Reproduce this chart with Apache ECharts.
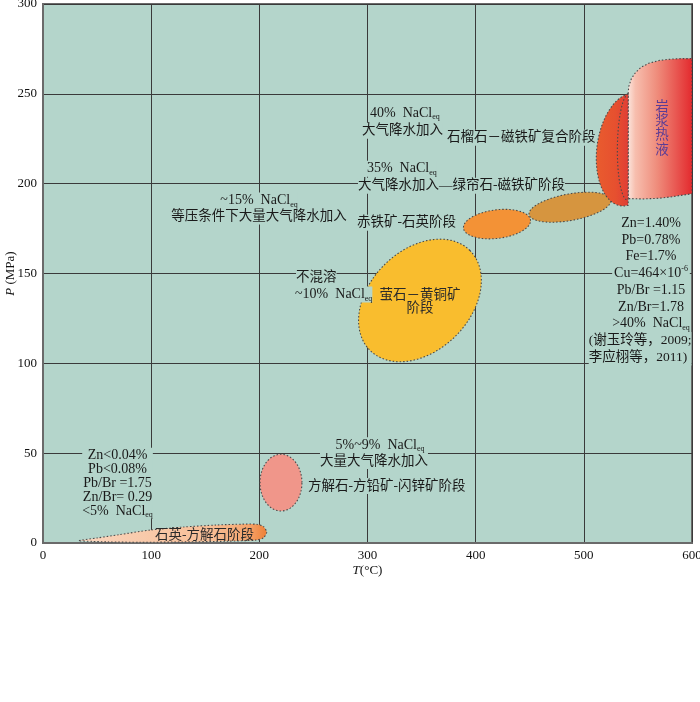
<!DOCTYPE html>
<html><head><meta charset="utf-8">
<script src="https://cdn.jsdelivr.net/npm/echarts@6/dist/echarts.min.js"></script>
<style>html,body{margin:0;padding:0;background:#fff}#c{width:700px;height:702px}</style>
</head><body><div id="c"></div>
<script>
// ---- axes ----
const xMin = 0, xMax = 600, xStep = 100;
const yMin = 0, yMax = 300, yStep = 50;

// ---- stage fields drawn as ellipses: centre [T, P] + two conjugate semi-axes (data units) ----
const ellipseNames  = ['方解石-方铅矿-闪锌矿阶段', '赤铁矿-石英阶段', '绿帘石-磁铁矿阶段', '萤石-黄铜矿阶段'];
const ellipseCenter = [[220, 33.6], [419.7, 177.5], [487.2, 186.9], [348.5, 135]];
const ellipseU      = [[19.4, 0], [31, 1.9], [37.9, 3.7], [46.2, 27.8]];
const ellipseV      = [[0, 15.8], [0, 8.0], [0, 7.5], [-33, 19.8]];
const ellipseColor  = ['#f0968a', '#f39236', '#d6953f', '#f9bd2e'];

// ---- 石英-方解石阶段 lens outline (T, P) ----
const lensT = [33.3, 50, 70, 99, 130, 160, 185, 197.6, 203.9, 206.8, 203.9, 197.6, 170, 130, 90, 60, 45];
const lensP = [1.3, 2.8, 4.6, 7.2, 8.9, 10.0, 10.5, 10.4, 9.1, 6.0, 2.9, 1.7, 1.0, 0.6, 0.4, 0.6, 0.9];

// ---- 岩浆热液 field outline (T, P) ----
const magmaT = [541, 541, 541.5, 544, 548, 553, 560, 570, 580, 590, 600, 600, 590, 580, 570, 555, 541];
const magmaP = [191.7, 250, 254, 258.5, 262, 264.8, 267, 268.6, 269.3, 269.6, 269.6, 194.4, 193.5, 192.6, 191.9, 191.5, 191.7];

// ---- 石榴石-磁铁矿复合阶段 field: half ellipse (centre, conjugate semi-axes) ----
const garnetC = [541, 219], garnetU = [0, 31], garnetV = [-29.5, -5];
const garnetInnerC = [541, 220.5], garnetInnerU = [0, 29.5], garnetInnerV = [-10, -2];

// ---- annotations ----
const EQ = '{s|eq}';
const noteText = [
  '40%  NaCl' + EQ,
  '大气降水加入',
  '石榴石－磁铁矿复合阶段',
  '35%  NaCl' + EQ,
  '大气降水加入—绿帘石-磁铁矿阶段',
  '~15%  NaCl' + EQ,
  '等压条件下大量大气降水加入',
  '赤铁矿-石英阶段',
  '不混溶',
  '~10%  NaCl' + EQ,
  '萤石－黄铜矿\n阶段',
  '岩\n浆\n热\n液',
  'Zn=1.40%\nPb=0.78%\nFe=1.7%\nCu=464×10{p|-6}\nPb/Br =1.15\nZn/Br=1.78\n>40%  NaCl' + EQ,
  '(谢玉玲等，2009;\n李应栩等，2011)',
  'Zn<0.04%\nPb<0.08%\nPb/Br =1.75\nZn/Br= 0.29\n<5%  NaCl' + EQ,
  '5%~9%  NaCl' + EQ,
  '大量大气降水加入',
  '方解石-方铅矿-闪锌矿阶段',
  '石英-方解石阶段'
];
const noteAt = [
  [302.3, 239.4], [294.9, 229.4], [373.5, 225.6], [299.5, 208.3], [291.2, 198.9],
  [199.7, 190.6], [199.7, 181.7], [290.3, 178.3], [233.9, 147.8], [233, 138.3],
  [348.5, 133.9], [572.3, 230.6], [562.1, 150.0], [504.5, 108.1], [68.9, 33.2],
  [311.6, 54.4], [306, 45.6], [245, 31.7], [149.3, 4.4]
];
const noteAlign = ['left','left','left','left','left','center','center','left','left','left',
                   'center','center','center','left','center','center','center','left','center'];
const noteSize  = [14,13.5,13.5,14,13.5,14,13.5,13.5,13.5,14,13.5,13.5,14,13.5,14,14,13.5,13.5,13.5];
const noteLH    = [16,16,16,16,16,16,16,16,16,16,13,14.4,16.75,16.75,14.2,16,16,16,16];
const noteBg    = [1,1,1,1,1,1,1,1,1,1,0,0,1,1,1,1,1,1,0];
const noteColor = ['#1a1a1a','#1a1a1a','#1a1a1a','#1a1a1a','#1a1a1a','#1a1a1a','#1a1a1a','#1a1a1a','#1a1a1a','#1a1a1a',
                   '#2a2a2a','#5b3c95','#1a1a1a','#1a1a1a','#1a1a1a','#1a1a1a','#1a1a1a','#1a1a1a','#2a2a2a'];

const BG = '#b4d5cb';
const FONT = '"Liberation Serif", "Times New Roman", "Noto Sans CJK SC", serif';
const DASH = {stroke: '#4a4a4a', lineWidth: 1.1, lineDash: [1.5, 2]};

function conj(api, c, u, v, t0, t1, n) {
  const pts = [];
  for (let i = 0; i <= n; i++) {
    const t = t0 + (t1 - t0) * i / n;
    pts.push(api.coord([c[0] + u[0] * Math.cos(t) + v[0] * Math.sin(t),
                        c[1] + u[1] * Math.cos(t) + v[1] * Math.sin(t)]));
  }
  return pts;
}
function hgrad(stops) {
  return {type: 'linear', x: 0, y: 0, x2: 1, y2: 0,
          colorStops: stops.map(s => ({offset: s[0], color: s[1]}))};
}

const chart = echarts.init(document.getElementById('c'), null, {renderer: 'canvas'});

const fieldIds = ['lens', 'magma', 'e0', 'e1', 'e2', 'garnet', 'e3'];

chart.setOption({
  animation: false,
  backgroundColor: '#ffffff',
  grid: {left: 43, top: 4, right: 8, bottom: 159, show: true, backgroundColor: BG,
         borderColor: '#6a6a6a', borderWidth: 2, containLabel: false, outerBoundsMode: 'none'},
  xAxis: {
    type: 'value', min: xMin, max: xMax, interval: xStep,
    name: '{i|T}(°C)', nameLocation: 'middle', nameGap: 21, nameMoveOverlap: false,
    nameTextStyle: {fontFamily: FONT, fontSize: 13, color: '#111', rich: {i: {fontStyle: 'italic', fontFamily: FONT, fontSize: 13}}},
    axisLine: {show: true, lineStyle: {color: '#6a6a6a', width: 2}},
    axisTick: {show: false},
    axisLabel: {fontFamily: FONT, fontSize: 13, color: '#111', margin: 6},
    splitLine: {show: true, lineStyle: {color: '#3a3a3a', width: 1}}
  },
  yAxis: {
    type: 'value', min: yMin, max: yMax, interval: yStep,
    name: '{i|P} (MPa)', nameLocation: 'middle', nameGap: 26, nameRotate: 90, nameMoveOverlap: false,
    nameTextStyle: {fontFamily: FONT, fontSize: 13, color: '#111', rich: {i: {fontStyle: 'italic', fontFamily: FONT, fontSize: 13}}},
    axisLine: {show: true, lineStyle: {color: '#6a6a6a', width: 2}},
    axisTick: {show: false},
    axisLabel: {fontFamily: FONT, fontSize: 13, color: '#111', margin: 6},
    splitLine: {show: true, lineStyle: {color: '#3a3a3a', width: 1}}
  },
  series: [
    {
      type: 'custom', name: 'fields', z: 3, clip: true,
      data: fieldIds.map((id, i) => [i]),
      renderItem: function (params, api) {
        const id = fieldIds[params.dataIndex];
        if (id === 'lens') {
          const pts = lensT.map((t, i) => api.coord([t, lensP[i]]));
          return {type: 'polygon', shape: {points: pts, smooth: 0.25},
                  style: Object.assign({fill: hgrad([[0, '#fad6bf'], [0.7, '#f7be96'], [0.9, '#f4a46c'], [1, '#ee7f35']])}, DASH)};
        }
        if (id === 'magma') {
          const pts = magmaT.map((t, i) => api.coord([t, magmaP[i]]));
          return {type: 'polygon', shape: {points: pts},
                  style: Object.assign({fill: hgrad([[0, '#fce6de'], [0.12, '#f7beae'], [0.45, '#ef8d7c'], [1, '#e3292d']])}, DASH)};
        }
        if (id === 'garnet') {
          const outer = conj(api, garnetC, garnetU, garnetV, 0, Math.PI, 60);
          const inner = conj(api, garnetInnerC, garnetInnerU, garnetInnerV, 0, Math.PI, 60);
          return {type: 'group', children: [
            {type: 'polygon', shape: {points: outer},
             style: Object.assign({fill: hgrad([[0, '#e95c2e'], [0.6, '#e6502f'], [1, '#e03d36']])}, DASH)},
            {type: 'polyline', shape: {points: inner}, style: Object.assign({fill: null}, DASH)}
          ]};
        }
        const k = +id.slice(1);
        const pts = conj(api, ellipseCenter[k], ellipseU[k], ellipseV[k], 0, 2 * Math.PI, 90);
        return {type: 'polygon', shape: {points: pts},
                style: Object.assign({fill: ellipseColor[k]}, DASH)};
      }
    },
    {
      type: 'custom', name: 'notes', z: 5, clip: false,
      data: noteText.map((t, i) => [i]),
      renderItem: function (params, api) {
        const i = params.dataIndex;
        const p = api.coord(noteAt[i]);
        const fs = noteSize[i];
        return {
          type: 'text', x: p[0], y: p[1],
          style: {
            text: noteText[i],
            align: noteAlign[i], verticalAlign: 'middle',
            fontFamily: FONT, fontSize: fs, lineHeight: noteLH[i],
            fill: noteColor[i],
            backgroundColor: noteBg[i] ? BG : null,
            rich: {
              s: {fontSize: 8, fontFamily: FONT, verticalAlign: 'bottom', lineHeight: noteLH[i], padding: [6, 0, 0, 0], fill: noteColor[i]},
              p: {fontSize: 8, fontFamily: FONT, verticalAlign: 'top', lineHeight: noteLH[i], fill: noteColor[i]}
            }
          }
        };
      }
    }
  ]
});
</script>
</body></html>
